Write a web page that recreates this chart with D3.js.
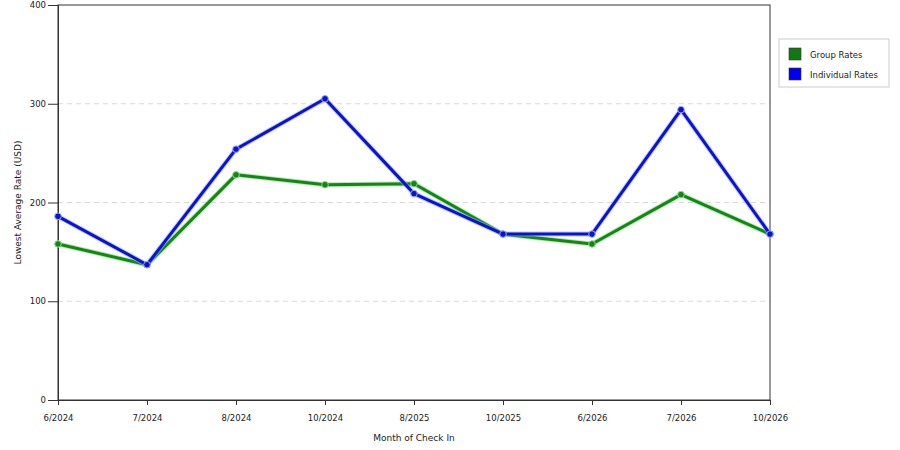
<!DOCTYPE html>
<html>
<head>
<meta charset="utf-8">
<script src="https://cdn.jsdelivr.net/npm/d3@7"></script>
<style>
  body { margin: 0; background: #fff; }
  text { font-family: "DejaVu Sans", Verdana, sans-serif; fill: #222; }
</style>
</head>
<body>
<div id="chart"></div>
<script>
const months = ["6/2024", "7/2024", "8/2024", "10/2024", "8/2025", "10/2025", "6/2026", "7/2026", "10/2026"];
const groupRates = [158, 137, 228, 218, 219, 168, 158, 208, 168];
const individualRates = [186, 137, 254, 305, 209, 168, 168, 294, 168];
const yTicks = [0, 100, 200, 300, 400];

const series = [
    { name: "Group Rates", values: groupRates, color: "#118811", glow: "#8fd88f", swatch: "#0f7a0f" },
    { name: "Individual Rates", values: individualRates, color: "#0a14cc", glow: "#9aa6ff", swatch: "#0000ee" }
];

const width = 900, height = 450;
const margin = { top: 5, right: 130, bottom: 50, left: 58 };

const svg = d3.select("#chart")
    .append("svg")
    .attr("width", width)
    .attr("height", height);

const x = d3.scalePoint()
    .domain(months)
    .range([margin.left, width - margin.right]);

const y = d3.scaleLinear()
    .domain([0, 400])
    .range([height - margin.bottom, margin.top]);

// grid lines
svg.append("g")
    .selectAll("line")
    .data(yTicks.filter(d => d > 0 && d < 400))
    .enter().append("line")
    .attr("x1", margin.left)
    .attr("x2", width - margin.right)
    .attr("y1", d => y(d))
    .attr("y2", d => y(d))
    .attr("stroke", "#d8d8d8")
    .attr("stroke-dasharray", "5,4");

// frame
svg.append("rect")
    .attr("x", margin.left)
    .attr("y", margin.top)
    .attr("width", width - margin.right - margin.left)
    .attr("height", height - margin.bottom - margin.top)
    .attr("fill", "none")
    .attr("stroke", "#333");

// axes
const xAxis = svg.append("g")
    .attr("transform", `translate(0,${height - margin.bottom})`)
    .call(d3.axisBottom(x).tickSize(5).tickPadding(10));

const yAxis = svg.append("g")
    .attr("transform", `translate(${margin.left},0)`)
    .call(d3.axisLeft(y).tickValues(yTicks).tickSize(10).tickPadding(2));

[xAxis, yAxis].forEach(a => {
    a.select(".domain").attr("stroke", "#333");
    a.selectAll(".tick line").attr("stroke", "#333");
    a.selectAll(".tick text")
        .attr("fill", "#222")
        .style("font-family", "'DejaVu Sans', Verdana, sans-serif")
        .style("font-size", "8.5px");
});

// axis titles
svg.append("text")
    .attr("x", (margin.left + width - margin.right) / 2)
    .attr("y", 441)
    .attr("text-anchor", "middle")
    .style("font-size", "9px")
    .text("Month of Check In");

svg.append("text")
    .attr("transform", `translate(21,${(margin.top + height - margin.bottom) / 2}) rotate(-90)`)
    .attr("text-anchor", "middle")
    .style("font-size", "9px")
    .text("Lowest Average Rate (USD)");

// lines
const line = d3.line()
    .x((d, i) => x(months[i]))
    .y(d => y(d));

series.forEach(s => {
    svg.append("path")
        .datum(s.values)
        .attr("d", line)
        .attr("fill", "none")
        .attr("stroke", s.glow)
        .attr("stroke-width", 5)
        .attr("stroke-opacity", 0.6)
        .attr("stroke-linejoin", "round");

    svg.append("path")
        .datum(s.values)
        .attr("d", line)
        .attr("fill", "none")
        .attr("stroke", s.color)
        .attr("stroke-width", 3)
        .attr("stroke-linejoin", "round");

    svg.append("g")
        .selectAll("circle")
        .data(s.values)
        .enter().append("circle")
        .attr("cx", (d, i) => x(months[i]))
        .attr("cy", d => y(d))
        .attr("r", 3.3)
        .attr("fill", s.color)
        .attr("stroke", s.glow)
        .attr("stroke-width", 1);
});

// legend
const legend = svg.append("g").attr("transform", "translate(779,39)");
legend.append("rect")
    .attr("width", 110)
    .attr("height", 48)
    .attr("fill", "#fff")
    .attr("stroke", "#ccc");

const item = legend.selectAll(".item")
    .data(series)
    .enter().append("g")
    .attr("transform", (d, i) => `translate(10,${9 + i * 20})`);

item.append("rect")
    .attr("width", 12)
    .attr("height", 12)
    .attr("fill", d => d.swatch)
    .attr("stroke", "#333")
    .attr("stroke-width", 0.6);

item.append("text")
    .attr("x", 21)
    .attr("y", 10)
    .style("font-size", "8.5px")
    .text(d => d.name);
</script>
</body>
</html>
